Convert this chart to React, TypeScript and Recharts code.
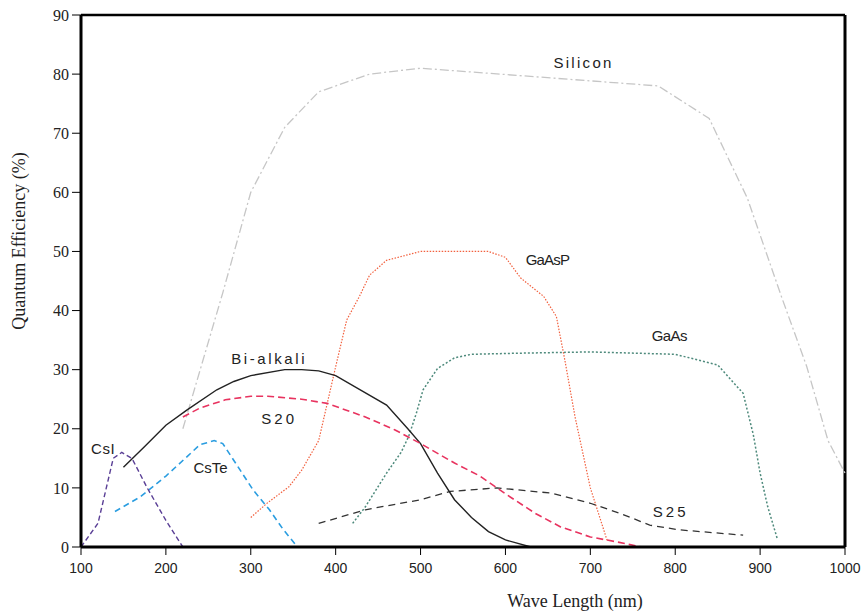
import React from "react";
import {
  LineChart,
  Line,
  XAxis,
  YAxis,
  ReferenceLine,
  ReferenceDot,
} from "recharts";

// wavelength (nm) / quantum efficiency (%)
const silicon = [
  { x: 220, y: 20 }, { x: 267, y: 43 }, { x: 300, y: 60 }, { x: 340, y: 71 },
  { x: 380, y: 77 }, { x: 440, y: 80 }, { x: 500, y: 81 }, { x: 780, y: 78 },
  { x: 840, y: 72.5 }, { x: 885, y: 59 }, { x: 926, y: 42 }, { x: 955, y: 30.5 },
  { x: 980, y: 18 }, { x: 1000, y: 12.5 },
];
const biAlkali = [
  { x: 150, y: 13.5 }, { x: 175, y: 17 }, { x: 200, y: 20.6 }, { x: 225, y: 23.2 },
  { x: 260, y: 26.6 }, { x: 280, y: 28 }, { x: 300, y: 29 }, { x: 340, y: 30 },
  { x: 360, y: 30 }, { x: 380, y: 29.8 }, { x: 400, y: 29 }, { x: 430, y: 26.5 },
  { x: 460, y: 24 }, { x: 485, y: 20 }, { x: 500, y: 17.5 }, { x: 520, y: 12.5 },
  { x: 540, y: 8 }, { x: 560, y: 5 }, { x: 580, y: 2.6 }, { x: 600, y: 1.2 },
  { x: 630, y: 0 },
];
const s20 = [
  { x: 220, y: 22 }, { x: 240, y: 23.5 }, { x: 270, y: 24.9 }, { x: 300, y: 25.5 },
  { x: 320, y: 25.5 }, { x: 360, y: 25 }, { x: 390, y: 24.3 }, { x: 435, y: 22 },
  { x: 470, y: 19.8 }, { x: 500, y: 17.5 }, { x: 540, y: 14.2 }, { x: 570, y: 12 },
  { x: 600, y: 9 }, { x: 635, y: 5.7 }, { x: 665, y: 3.4 }, { x: 700, y: 1.7 },
  { x: 730, y: 0.9 }, { x: 760, y: 0 },
];
const csI = [
  { x: 100, y: 0 }, { x: 120, y: 4 }, { x: 138, y: 15 }, { x: 148, y: 16 },
  { x: 160, y: 15 }, { x: 178, y: 10 }, { x: 200, y: 4.5 }, { x: 220, y: 0 },
];
const csTe = [
  { x: 140, y: 6 }, { x: 170, y: 8.5 }, { x: 200, y: 12 }, { x: 225, y: 15.3 },
  { x: 240, y: 17.3 }, { x: 257, y: 18 }, { x: 267, y: 17.5 }, { x: 283, y: 14 },
  { x: 303, y: 9.6 }, { x: 322, y: 6.3 }, { x: 338, y: 3 }, { x: 355, y: 0 },
];
const gaAsP = [
  { x: 300, y: 5 }, { x: 320, y: 7.5 }, { x: 345, y: 10.2 }, { x: 360, y: 13 },
  { x: 380, y: 18 }, { x: 400, y: 30.5 }, { x: 413, y: 38.4 }, { x: 428, y: 42.4 },
  { x: 440, y: 46 }, { x: 460, y: 48.5 }, { x: 500, y: 50 }, { x: 580, y: 50 },
  { x: 600, y: 49 }, { x: 618, y: 45.5 }, { x: 645, y: 42.4 }, { x: 660, y: 39 },
  { x: 670, y: 31.6 }, { x: 682, y: 22 }, { x: 700, y: 10 }, { x: 720, y: 1 },
];
const gaAs = [
  { x: 420, y: 4 }, { x: 435, y: 6.8 }, { x: 460, y: 12.5 }, { x: 477, y: 16 },
  { x: 486, y: 18.7 }, { x: 495, y: 22.6 }, { x: 503, y: 26.6 }, { x: 520, y: 30.2 },
  { x: 540, y: 32 }, { x: 560, y: 32.6 }, { x: 620, y: 32.8 }, { x: 700, y: 33 },
  { x: 800, y: 32.6 }, { x: 850, y: 30.8 }, { x: 880, y: 26 }, { x: 892, y: 19 },
  { x: 900, y: 12.5 }, { x: 909, y: 6.8 }, { x: 920, y: 1.5 },
];
const s25 = [
  { x: 380, y: 4 }, { x: 435, y: 6.3 }, { x: 500, y: 8 }, { x: 535, y: 9.4 },
  { x: 590, y: 10 }, { x: 655, y: 9.1 }, { x: 700, y: 7.4 }, { x: 735, y: 5.7 },
  { x: 770, y: 3.7 }, { x: 805, y: 2.9 }, { x: 880, y: 2 },
];

const xTicks = [100, 200, 300, 400, 500, 600, 700, 800, 900, 1000];
const yTicks = [0, 10, 20, 30, 40, 50, 60, 70, 80, 90];

const serif = "'Liberation Serif', 'Times New Roman', serif";
const sans = "'Liberation Sans', Arial, sans-serif";

const tag = (value: string, spacing: number) => ({
  value,
  position: "center" as const,
  fill: "#222",
  fontSize: 15,
  fontFamily: sans,
  letterSpacing: spacing,
});

export default function App() {
  return (
    <div style={{ position: "absolute", left: 0, top: 0, background: "#fff" }}>
      <LineChart
        width={865}
        height={611}
        margin={{ top: 15, right: 20, bottom: 0, left: 0 }}
      >
        <XAxis
          type="number"
          dataKey="x"
          domain={[100, 1000]}
          ticks={xTicks}
          allowDuplicatedCategory={false}
          height={64}
          tickSize={8}
          tickMargin={8}
          axisLine={{ stroke: "#000", strokeWidth: 3 }}
          tickLine={{ stroke: "#000" }}
          tick={{ fill: "#222", fontSize: 14, fontFamily: sans }}
          label={{
            value: "Wave Length (nm)",
            position: "insideBottom",
            offset: 4,
            dx: 112,
            fill: "#222",
            fontSize: 18,
            fontFamily: serif,
          }}
        />
        <YAxis
          type="number"
          dataKey="y"
          domain={[0, 90]}
          ticks={yTicks}
          width={81}
          tickSize={9}
          tickMargin={3}
          axisLine={{ stroke: "#000", strokeWidth: 3 }}
          tickLine={{ stroke: "#000" }}
          tick={{ fill: "#222", fontSize: 16, fontFamily: serif }}
          label={{
            value: "Quantum Efficiency (%)",
            angle: -90,
            position: "center",
            dx: -22,
            dy: -40,
            fill: "#222",
            fontSize: 18,
            fontFamily: serif,
          }}
        />
        <ReferenceLine y={90} stroke="#000" strokeWidth={2.5} />
        <ReferenceLine x={1000} stroke="#000" strokeWidth={3} />

        <Line data={silicon} dataKey="y" type="linear" dot={false} stroke="#c6c6c6" strokeWidth={1.3} strokeDasharray="9 3 2 3" isAnimationActive={false} />
        <Line data={gaAsP} dataKey="y" type="linear" dot={false} stroke="#f2603e" strokeWidth={1.2} strokeDasharray="1.5 1.5" isAnimationActive={false} />
        <Line data={gaAs} dataKey="y" type="linear" dot={false} stroke="#4e8a7c" strokeWidth={1.5} strokeDasharray="2 2" isAnimationActive={false} />
        <Line data={s25} dataKey="y" type="linear" dot={false} stroke="#333" strokeWidth={1.3} strokeDasharray="7 5" isAnimationActive={false} />
        <Line data={biAlkali} dataKey="y" type="linear" dot={false} stroke="#222" strokeWidth={1.4} isAnimationActive={false} />
        <Line data={s20} dataKey="y" type="linear" dot={false} stroke="#e8335f" strokeWidth={1.6} strokeDasharray="7 4" isAnimationActive={false} />
        <Line data={csTe} dataKey="y" type="linear" dot={false} stroke="#2a9de0" strokeWidth={1.6} strokeDasharray="6 4" isAnimationActive={false} />
        <Line data={csI} dataKey="y" type="linear" dot={false} stroke="#5a3f96" strokeWidth={1.4} strokeDasharray="5 3" isAnimationActive={false} />

        <ReferenceDot x={692} y={81.9} r={0} label={tag("Silicon", 2.3)} />
        <ReferenceDot x={649.5} y={48.6} r={0} label={tag("GaAsP", -0.8)} />
        <ReferenceDot x={793} y={35.7} r={0} label={tag("GaAs", -0.6)} />
        <ReferenceDot x={321.7} y={31.9} r={0} label={tag("Bi-alkali", 2.6)} />
        <ReferenceDot x={333.5} y={21.7} r={0} label={tag("S20", 3)} />
        <ReferenceDot x={126} y={16.7} r={0} label={tag("CsI", 0.5)} />
        <ReferenceDot x={252.7} y={13.5} r={0} label={tag("CsTe", 0)} />
        <ReferenceDot x={794.6} y={6} r={0} label={tag("S25", 3)} />
      </LineChart>
    </div>
  );
}
